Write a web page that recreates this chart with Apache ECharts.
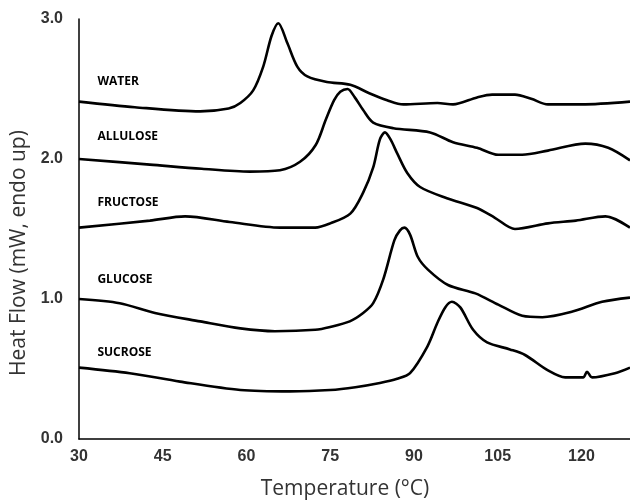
<!DOCTYPE html>
<html lang="en">
  <head>
    <meta charset="UTF-8" />
    <title>DSC thermograms</title>
    <script src="https://cdn.jsdelivr.net/npm/echarts@6/dist/echarts.min.js"></script>
    <style>
      html, body { margin: 0; padding: 0; background: #ffffff; }
    </style>
  </head>
  <body>
    <div id="dsc" style="width: 630px; height: 503px"></div>
    <script>
      // [temperature, heat flow]
      var water = [
        [30, 2.41], [40, 2.37], [51.7, 2.34], [56.8, 2.36], [58.9, 2.4], [61.2, 2.49], [63, 2.66],
        [64.5, 2.88], [65.7, 2.97], [67.3, 2.83], [69.1, 2.66], [70.9, 2.59], [74.4, 2.55],
        [78.6, 2.53], [82, 2.47], [85.2, 2.42], [88.1, 2.39], [94.2, 2.4], [97, 2.39], [101.3, 2.44],
        [104, 2.46], [108.1, 2.46], [111, 2.43], [114, 2.39], [120, 2.39], [128.7, 2.41]
      ];
      var allulose = [
        [30, 2.0], [42.7, 1.96], [52, 1.93], [60.6, 1.91], [66, 1.92], [69.6, 1.98], [72.4, 2.1],
        [74.2, 2.28], [75.7, 2.42], [76.8, 2.48], [78.1, 2.5], [79.4, 2.44], [80.9, 2.35], [82.7, 2.26],
        [86.3, 2.22], [92.9, 2.19], [97, 2.12], [101.3, 2.08], [105.1, 2.03], [109.4, 2.03], [114, 2.06],
        [120.7, 2.11], [124.8, 2.08], [128.7, 1.99]
      ];
      var fructose = [
        [30, 1.51], [42.7, 1.56], [49, 1.59], [57, 1.55], [66, 1.51], [72.3, 1.51], [75, 1.54],
        [78.6, 1.61], [80.9, 1.76], [82.7, 1.94], [83.9, 2.14], [84.8, 2.19], [85.8, 2.14], [87, 2.04],
        [88.8, 1.9], [91.1, 1.8], [95.9, 1.72], [101.3, 1.65], [104.5, 1.58], [108.1, 1.5], [114, 1.54],
        [119, 1.56], [124.3, 1.59], [128.7, 1.51]
      ];
      var glucose = [
        [30, 1.0], [37.3, 0.97], [43.6, 0.9], [51.7, 0.84], [58.9, 0.79], [65.1, 0.77], [72.3, 0.78],
        [75, 0.8], [78.5, 0.84], [80.9, 0.9], [82.7, 0.97], [84.5, 1.14], [86.5, 1.42], [87.5, 1.49],
        [88.3, 1.51], [89.3, 1.46], [90.7, 1.3], [92.5, 1.21], [96.1, 1.1], [101, 1.04], [105.1, 0.96],
        [109.4, 0.88], [113, 0.87], [118.4, 0.91], [123.7, 0.98], [128.7, 1.01]
      ];
      var sucrose = [
        [30, 0.51], [39.1, 0.47], [48.1, 0.41], [58.9, 0.35], [67.8, 0.34], [75, 0.35], [79.5, 0.37],
        [83.9, 0.4], [87, 0.43], [89.3, 0.47], [92.4, 0.66], [94.2, 0.83], [95.6, 0.94], [96.8, 0.98],
        [98.3, 0.94], [100.6, 0.78], [103.1, 0.69], [107.2, 0.64], [109.9, 0.6], [114, 0.49],
        [117.1, 0.44], [120.3, 0.44], [121, 0.48], [121.9, 0.44], [126, 0.47], [128.7, 0.51]
      ];
      var seriesNames = ['WATER', 'ALLULOSE', 'FRUCTOSE', 'GLUCOSE', 'SUCROSE'];
      var seriesData = [water, allulose, fructose, glucose, sucrose];
      // where each curve's name sits: [temperature, heat flow]
      var labelAt = [[33.3, 2.55], [33.3, 2.16], [33.3, 1.69], [33.3, 1.14], [33.3, 0.62]];
      var xTicks = { min: 30, max: 128.7, step: 15 };
      var yTicks = { min: 0, max: 3, step: 1 };

      var chart = echarts.init(document.getElementById('dsc'));

      var series = seriesData.map(function (d, i) {
        return {
          name: seriesNames[i],
          type: 'line',
          data: d,
          smooth: 0.3,
          symbol: 'none',
          lineStyle: { color: '#000000', width: 2.6 },
          markPoint: {
            symbol: 'circle',
            symbolSize: 0,
            silent: true,
            label: {
              show: true,
              position: 'right',
              distance: 0,
              formatter: seriesNames[i],
              color: '#000000',
              fontFamily: 'Open Sans',
              fontWeight: 'bold',
              fontSize: 12
            },
            data: [{ coord: labelAt[i] }]
          }
        };
      });

      chart.setOption({
        animation: false,
        grid: { left: 79, right: 0, top: 19, bottom: 64 },
        xAxis: {
          type: 'value',
          min: xTicks.min,
          max: xTicks.max,
          interval: xTicks.step,
          splitLine: { show: false },
          axisTick: { show: false },
          axisLine: { lineStyle: { color: '#000000', width: 1.5 } },
          axisLabel: {
            showMaxLabel: false,
            margin: 10,
            color: '#333333',
            fontFamily: 'Liberation Sans',
            fontWeight: 'bold',
            fontSize: 16
          }
        },
        yAxis: {
          type: 'value',
          min: yTicks.min,
          max: yTicks.max,
          interval: yTicks.step,
          splitLine: { show: false },
          axisTick: { show: false },
          axisLine: { show: true, lineStyle: { color: '#000000', width: 1.5 } },
          axisLabel: {
            margin: 16,
            color: '#333333',
            fontFamily: 'Liberation Sans',
            fontWeight: 'bold',
            fontSize: 16,
            formatter: function (v) { return v.toFixed(1); }
          }
        },
        graphic: [
          {
            type: 'text',
            x: 345,
            y: 489,
            style: {
              text: 'Temperature (\u00B0C)',
              fill: '#333333',
              font: '21px "Open Sans"',
              textAlign: 'center',
              textVerticalAlign: 'middle'
            }
          },
          {
            type: 'text',
            x: 19,
            y: 253,
            rotation: Math.PI / 2,
            style: {
              text: 'Heat Flow (mW, endo up)',
              fill: '#333333',
              font: '21px "Open Sans"',
              textAlign: 'center',
              textVerticalAlign: 'middle'
            }
          }
        ],
        series: series
      });
    </script>
  </body>
</html>
